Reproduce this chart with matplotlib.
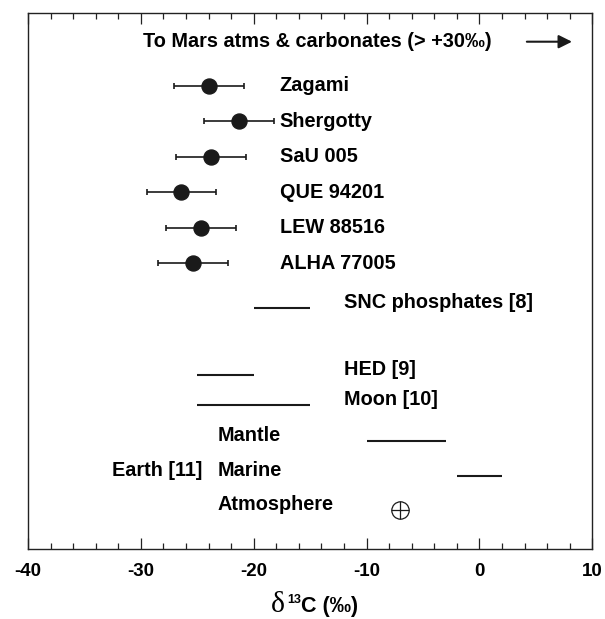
import matplotlib
matplotlib.use('Agg')
import matplotlib.pyplot as plt
from matplotlib.ticker import MultipleLocator
import numpy as np

plt.rcParams['font.family'] = ['Liberation Sans', 'DejaVu Sans']
plt.rcParams['axes.unicode_minus'] = False

# martian meteorites: d13C (permil) with error bars
meteorites = ['Zagami', 'Shergotty', 'SaU 005', 'QUE 94201', 'LEW 88516', 'ALHA 77005']
met_d13c = [-24.0, -21.3, -23.8, -26.4, -24.7, -25.4]
met_err = [3.1, 3.1, 3.1, 3.1, 3.1, 3.1]

# reference reservoirs shown as ranges
ranges = ['SNC phosphates [8]', 'HED [9]', 'Moon [10]', 'Mantle', 'Marine']
range_lo = [-20, -25, -25, -10, -2]
range_hi = [-15, -20, -15, -3, 2]

atm_label = 'Atmosphere'
atm_d13c = -7

# layout (rows counted from the top)
met_rows = np.arange(len(meteorites)) + 2
range_rows = [8.25, 10.15, 11.0, 12.0, 13.0]
range_label_x = [-12.0, -12.0, -12.0, -23.2, -23.2]
atm_row = 13.95
arrow_row = 0.76

ink = '#1a1a1a'
W, H = 605, 619

fig = plt.figure(figsize=(W / 100, H / 100), dpi=100)
ax = fig.add_axes([28 / W, 1 - 549 / H, (592.3 - 28) / W, (549 - 13.3) / H])

ax.errorbar(met_d13c, met_rows, xerr=met_err, fmt='o', color=ink, ms=10.8,
            elinewidth=1.2, capsize=2.4, capthick=1.2)
for name, r in zip(meteorites, met_rows):
    ax.text(-17.7, r, name, fontsize=14.3, fontweight='bold', va='center', ha='left', color='k')

ax.hlines(range_rows, range_lo, range_hi, color=ink, lw=1.5)
for name, r, lx in zip(ranges, range_rows, range_label_x):
    ax.annotate(name, xy=(lx, r), xytext=(0, 4), textcoords='offset points',
                fontsize=14.3, fontweight='bold', va='center', ha='left', color='k')
ax.annotate('Earth [11]', xy=(-32.6, range_rows[4]), xytext=(0, 4), textcoords='offset points',
            fontsize=14.3, fontweight='bold', va='center', ha='left', color='k')

ax.plot(atm_d13c, atm_row, marker='o', mfc='none', mec=ink, ms=12.5, mew=0.9, ls='none')
ax.plot(atm_d13c, atm_row, marker='+', mec=ink, ms=12.5, mew=0.9, ls='none')
ax.annotate(atm_label, xy=(-23.2, atm_row), xytext=(0, 4), textcoords='offset points',
            fontsize=14.3, fontweight='bold', va='center', ha='left', color='k')

ax.text(-29.8, arrow_row, 'To Mars atms & carbonates (> +30\u2030)', fontsize=14.3,
        fontweight='bold', va='center', ha='left', color='k')
ax.annotate('', xy=(8.2, arrow_row), xytext=(4.2, arrow_row),
            arrowprops=dict(arrowstyle='-|>', mutation_scale=20, lw=1.5, color=ink,
                            shrinkA=0, shrinkB=0))

ax.set_xlim(-40, 10)
ax.set_ylim(15.05, -0.04)
ax.set_yticks([])
ax.xaxis.set_major_locator(MultipleLocator(10))
ax.xaxis.set_minor_locator(MultipleLocator(2))
ax.tick_params(axis='x', which='both', direction='in', top=True, bottom=True,
               width=0.9, color='#222', labelsize=13.5, pad=10)
ax.tick_params(axis='x', which='major', length=7.7)
ax.tick_params(axis='x', which='minor', length=4.3)
for lab in ax.get_xticklabels():
    lab.set_fontweight('bold')
for sp in ax.spines.values():
    sp.set_linewidth(1.0)
    sp.set_color('#222')

# x label: delta 13 C (permil)
fig.text(271 / W, 1 - 612.5 / H, '\u03b4', family='Liberation Serif', fontsize=21.5,
         ha='left', va='baseline', color='k')
fig.text(287 / W, 1 - 602.7 / H, '13', fontsize=9, fontweight='bold',
         ha='left', va='baseline', color='k')
fig.text(301 / W, 1 - 611.7 / H, 'C (\u2030)', fontsize=15.5, fontweight='bold',
         ha='left', va='baseline', color='k')

fig.savefig('out.png', dpi=100)
